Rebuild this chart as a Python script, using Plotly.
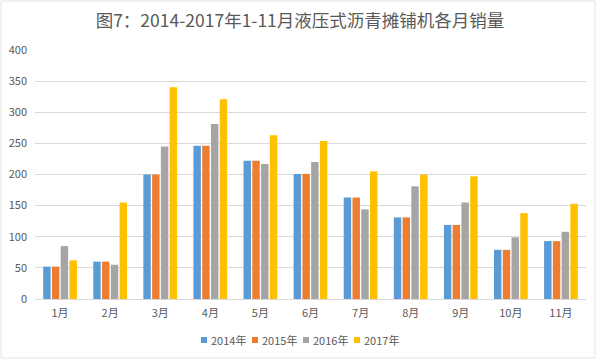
import plotly.graph_objects as go

months = ["1月", "2月", "3月", "4月", "5月", "6月", "7月", "8月", "9月", "10月", "11月"]
series_names = ["2014年", "2015年", "2016年", "2017年"]
v2014 = [52, 60, 200, 246, 222, 201, 163, 131, 119, 79, 93]
v2015 = [52, 60, 200, 246, 222, 201, 163, 131, 119, 79, 93]
v2016 = [85, 55, 245, 281, 217, 220, 144, 181, 155, 99, 108]
v2017 = [62, 155, 340, 321, 263, 254, 205, 200, 197, 138, 153]
colors = ["#5B9BD5", "#ED7D31", "#A5A5A5", "#FFC000"]
y_ticks = [0, 50, 100, 150, 200, 250, 300, 350, 400]

font_family = "Noto Sans CJK SC, Noto Sans, sans-serif"

W, H = 600, 360
L, R, T, B = 35, 14, 50, 61
pw, ph = W - L - R, H - T - B


def px_x(x):
    return (x - L) / pw


def px_y(y):
    return (H - B - y) / ph


fig = go.Figure()
for name, vals, c in zip(series_names, [v2014, v2015, v2016, v2017], colors):
    fig.add_trace(go.Bar(x=months, y=vals, name=name, marker=dict(color=c, line=dict(width=0)),
                         showlegend=False))

fig.update_layout(
    width=W, height=H,
    margin=dict(l=L, r=R, t=T, b=B, autoexpand=False),
    paper_bgcolor="white", plot_bgcolor="white",
    barmode="group", bargap=0.3, bargroupgap=0.15,
    font=dict(family=font_family, color="#595959", size=11),
    title=dict(text="图7：2014-2017年1-11月液压式沥青摊铺机各月销量",
               x=0.5, xanchor="center", y=0.943, yanchor="middle",
               font=dict(size=17.5, color="#595959", family=font_family)),
    xaxis=dict(showgrid=False, showline=True, linecolor="#D9D9D9", ticks="",
               automargin=False, ticklabelstandoff=4,
               tickfont=dict(size=11, color="#595959")),
    yaxis=dict(range=[0, 400], tickvals=y_ticks, showgrid=True, gridcolor="#D9D9D9",
               zeroline=False, showline=False, ticks="", ticklabelstandoff=7,
               automargin=False, tickfont=dict(size=11, color="#595959")),
    showlegend=False,
)

# outer chart border
fig.add_shape(type="rect", xref="paper", yref="paper",
              x0=px_x(1), x1=px_x(595), y0=px_y(358), y1=px_y(1),
              line=dict(color="#E3E3E3", width=1), fillcolor="rgba(0,0,0,0)", layer="below")

# legend drawn manually, items 51 px apart
leg_x0 = 201
for i, (name, c) in enumerate(zip(series_names, colors)):
    sx = leg_x0 + i * 51
    fig.add_shape(type="rect", xref="paper", yref="paper",
                  x0=px_x(sx), x1=px_x(sx + 6), y0=px_y(343), y1=px_y(337),
                  line=dict(width=0), fillcolor=c)
    fig.add_annotation(xref="paper", yref="paper", x=px_x(sx + 7.5), y=px_y(340),
                       xanchor="left", yanchor="middle", showarrow=False, text=name,
                       font=dict(size=11, color="#595959", family=font_family))

fig.write_html("out.html", config={"displayModeBar": False},
               post_script="document.body.style.margin='0';")
